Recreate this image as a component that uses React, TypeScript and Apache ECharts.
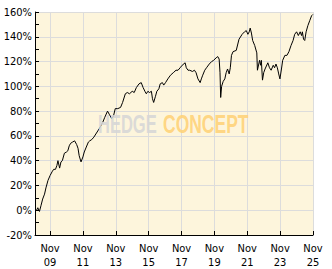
import React, { useEffect, useRef } from 'react';
import * as echarts from 'echarts';

const dates = [
  '2009-01-05', '2009-02-01', '2009-03-10', '2009-04-15', '2009-05-20', '2009-07-01', '2009-08-01', '2009-09-15',
  '2009-11-01', '2009-12-15', '2010-01-20', '2010-03-01', '2010-04-01', '2010-04-25', '2010-06-01', '2010-07-01',
  '2010-08-01', '2010-09-15', '2010-11-01', '2010-12-01', '2011-01-01', '2011-02-01', '2011-03-15', '2011-05-01',
  '2011-06-15', '2011-07-15', '2011-08-10', '2011-09-20', '2011-11-01', '2011-12-01', '2012-01-15', '2012-03-01',
  '2012-04-01', '2012-05-15', '2012-07-01', '2012-11-01', '2013-01-15', '2013-03-01', '2013-05-01', '2013-06-15',
  '2013-08-01', '2013-09-10', '2013-10-20', '2013-12-15', '2014-02-15', '2014-04-01', '2014-06-01', '2014-07-15',
  '2014-09-01', '2014-11-01', '2014-12-15', '2015-02-01', '2015-04-01', '2015-05-20', '2015-07-01', '2015-08-10',
  '2015-09-10', '2015-10-15', '2015-11-20', '2016-01-01', '2016-01-25', '2016-02-20', '2016-04-01', '2016-05-01',
  '2016-06-15', '2016-07-15', '2016-09-01', '2016-10-01', '2016-11-10', '2017-01-01', '2017-03-01', '2017-05-01',
  '2017-07-01', '2017-08-15', '2017-10-01', '2017-11-15', '2018-01-20', '2018-02-15', '2018-03-25', '2018-05-01',
  '2018-07-01', '2018-08-15', '2018-09-20', '2018-11-01', '2018-12-20', '2019-01-15', '2019-02-15', '2019-04-01',
  '2019-05-10', '2019-07-10', '2019-09-01', '2019-10-15', '2019-12-10', '2020-01-15', '2020-02-15', '2020-03-05',
  '2020-03-20', '2020-04-10', '2020-05-15', '2020-06-20', '2020-07-20', '2020-08-20', '2020-09-25', '2020-10-20',
  '2020-11-15', '2020-12-20', '2021-03-01', '2021-05-01', '2021-07-10', '2021-09-01', '2021-10-10', '2021-11-15',
  '2021-12-15', '2022-01-05', '2022-02-01', '2022-03-01', '2022-04-15', '2022-06-01', '2022-06-15', '2022-08-01',
  '2022-08-25', '2022-09-10', '2022-10-05', '2022-11-01', '2022-12-01', '2023-02-01', '2023-03-10', '2023-04-15',
  '2023-06-01', '2023-07-01', '2023-08-01', '2023-09-01', '2023-10-01', '2023-10-28', '2023-12-01', '2023-12-28',
  '2024-02-15', '2024-04-01', '2024-05-15', '2024-07-01', '2024-08-15', '2024-09-20', '2024-11-01', '2024-12-10',
  '2025-01-20', '2025-02-20', '2025-03-10', '2025-04-05', '2025-05-01', '2025-06-01', '2025-07-10', '2025-08-20',
  '2025-10-01', '2025-10-28',
];

const values = [
  0, 2, -1, 4, 9, 13, 18, 24,
  28, 31, 33, 33, 36, 40, 34, 39,
  40, 46, 47, 48, 52, 54, 55, 56,
  53, 50, 44, 39, 43, 47, 51, 55,
  56, 57, 59, 66, 71, 75, 80, 77,
  74, 76, 82, 82, 83, 87, 94, 95,
  94, 96, 95, 99, 102, 103, 99, 96,
  94, 96, 95, 96, 90, 87, 92, 96,
  98, 102, 103, 101, 103, 106, 109, 111,
  113, 113, 115, 117, 119, 115, 113, 113,
  112, 113, 111, 106, 103, 106, 109, 113,
  115, 118, 120, 121, 123, 124, 122, 111,
  91, 100, 104, 106, 111, 114, 110, 115,
  125, 128, 129, 138, 142, 144, 145, 142,
  144, 147, 143, 137, 133, 127, 113, 121,
  117, 121, 105, 111, 114, 119, 115, 113,
  117, 115, 118, 115, 110, 106, 114, 121,
  125, 125, 128, 133, 137, 142, 144, 141,
  144, 141, 144, 138, 137, 144, 149, 153,
  157, 158,
];

const xTickDates = [
  '2009-11-01', '2011-11-01', '2013-11-01', '2015-11-01', '2017-11-01',
  '2019-11-01', '2021-11-01', '2023-11-01', '2025-11-01',
];
const xTickLabels = ['Nov\n09', 'Nov\n11', 'Nov\n13', 'Nov\n15', 'Nov\n17', 'Nov\n19', 'Nov\n21', 'Nov\n23', 'Nov\n25'];
const xMinDate = '2008-12-01';
const xMaxDate = '2025-11-01';
const yMin = -20;
const yMax = 160;
const yStep = 20;

const t = (s: string) => new Date(s + 'T00:00:00Z').getTime();

const FONT = '"Liberation Sans Narrow", "DejaVu Sans Condensed", "Liberation Sans", sans-serif';

export default function App() {
  const ref = useRef<HTMLDivElement>(null);
  useEffect(() => {
    const chart = echarts.init(ref.current!, null, { renderer: 'svg' });
    const tickTimes = xTickDates.map(t);
    chart.setOption({
      animation: false,
      backgroundColor: '#ffffff',
      grid: {
        left: 35,
        top: 12,
        right: 19,
        bottom: 32,
        show: true,
        backgroundColor: '#fdf5dc',
        borderWidth: 0,
      },
      xAxis: {
        type: 'value',
        min: t(xMinDate),
        max: t(xMaxDate),
        scale: true,
        axisLine: { show: true, onZero: false, lineStyle: { color: '#000', width: 1 } },
        axisTick: {
          show: true,
          inside: true,
          length: 4,
          lineStyle: { color: '#000' },
          customValues: tickTimes,
        },
        axisLabel: {
          customValues: tickTimes,
          showMinLabel: true,
          showMaxLabel: true,
          color: '#000',
          fontSize: 11,
          fontFamily: FONT,
          lineHeight: 14,
          margin: 6,
          formatter: (v: number) => {
            const i = tickTimes.findIndex((tt) => Math.abs(tt - v) < 86400000 * 2);
            return i >= 0 ? xTickLabels[i] : '';
          },
        },
        splitLine: { show: true, lineStyle: { color: '#dcdcdc', width: 1 } },
      },
      yAxis: {
        type: 'value',
        min: yMin,
        max: yMax,
        interval: yStep,
        axisLine: { show: true, onZero: false, lineStyle: { color: '#000', width: 1 } },
        axisTick: { show: true, inside: true, length: 4, lineStyle: { color: '#000' } },
        minorTick: { show: true, splitNumber: 2, length: 4, lineStyle: { color: '#000' } },
        axisLabel: {
          color: '#000',
          fontSize: 11,
          fontFamily: FONT,
          margin: 3,
          formatter: '{value}%',
        },
        splitLine: { show: true, lineStyle: { color: '#dcdcdc', width: 1 } },
      },
      series: [
        {
          type: 'line',
          data: dates.map((d, i) => [t(d), values[i]]),
          showSymbol: false,
          symbol: 'none',
          lineStyle: { color: '#000', width: 1 },
          z: 3,
        },
      ],
      graphic: [
        {
          type: 'text',
          x: 98,
          y: 112,
          scaleX: 0.66,
          z: 10,
          silent: true,
          style: {
            text: 'HEDGE',
            fontSize: 25,
            fontWeight: 'bold',
            fontFamily: '"Liberation Sans", Arial, sans-serif',
            fill: 'rgba(215,215,215,0.9)',
          },
        },
        {
          type: 'text',
          x: 163,
          y: 112,
          scaleX: 0.7,
          z: 10,
          silent: true,
          style: {
            text: 'CONCEPT',
            fontSize: 25,
            fontWeight: 'bold',
            fontFamily: '"Liberation Sans", Arial, sans-serif',
            fill: 'rgba(255,210,120,0.9)',
          },
        },
      ],
    });
    return () => chart.dispose();
  }, []);
  return (
    <div
      ref={ref}
      style={{ position: 'fixed', left: 0, top: 0, width: 332, height: 269, background: '#fff' }}
    />
  );
}
